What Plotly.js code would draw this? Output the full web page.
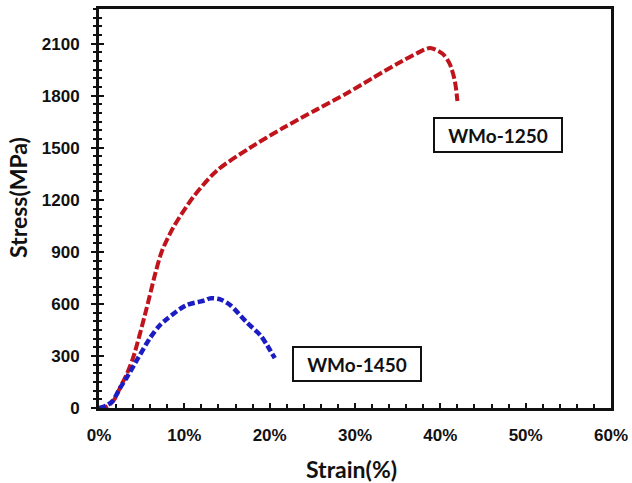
<!DOCTYPE html>
<html>
<head>
<meta charset="utf-8">
<script src="https://cdn.plot.ly/plotly-3.0.1.min.js"></script>
<style>html,body{margin:0;padding:0;background:#fff;}#chart{width:632px;height:483px;}</style>
</head>
<body>
<div id="chart"></div>
<script>
// WMo-1250 (strain %, stress MPa)
const strain1250 = [0, 1.0, 1.8, 2.5, 3.2, 4.0, 5.4, 6.6, 7.4, 8.7, 11.0, 13.8, 17.7, 21.6, 25.5, 29.1, 32.0, 34.9, 37.3, 38.8, 40.3, 41.1, 41.7, 42.0];
const stress1250 = [0, 10, 50, 121, 190, 290, 540, 776, 908, 1040, 1213, 1368, 1500, 1615, 1720, 1816, 1900, 1983, 2046, 2075, 2040, 1983, 1885, 1770];
// WMo-1450
const strain1450 = [0, 0.9, 1.6, 2.4, 3.3, 4.6, 6.0, 7.0, 8.0, 10.2, 12.4, 13.0, 14.2, 15.4, 17.3, 18.9, 19.7, 20.6];
const stress1450 = [0, 15, 40, 110, 180, 290, 405, 470, 515, 592, 620, 632, 626, 592, 494, 420, 362, 287];

const labels = ["WMo-1250", "WMo-1450"];
const labelX = [46.8, 30.2];
const labelY = [1574, 254];

const xTickVals = [0, 10, 20, 30, 40, 50, 60];
const xTickText = ["0%", "10%", "20%", "30%", "40%", "50%", "60%"];
const yTickVals = [0, 300, 600, 900, 1200, 1500, 1800, 2100];

const xTitle = "Strain(%)";
const yTitle = "Stress(MPa)";

const tickFont = {family: "Liberation Sans, Arial, sans-serif", size: 17, color: "#111", weight: "bold"};
const titleFont = {family: "Lato, 'Open Sans', sans-serif", size: 23, color: "#111", weight: "bold"};

const traces = [
  {x: strain1250, y: stress1250, type: "scatter", mode: "lines", name: labels[0],
   line: {color: "#C0141C", width: 4, dash: "9px,3px", shape: "spline", smoothing: 0.8}},
  {x: strain1450, y: stress1450, type: "scatter", mode: "lines", name: labels[1],
   line: {color: "#1C1CC4", width: 4.5, dash: "7px,3px", shape: "spline", smoothing: 0.8}},
  {x: [0], y: [0], xaxis: "x", yaxis: "y2", mode: "markers", marker: {opacity: 0}, hoverinfo: "skip", showlegend: false}
];

const annotations = labels.map((t, i) => ({
  x: labelX[i], y: labelY[i], xref: "x", yref: "y", text: t, showarrow: false,
  font: {family: "Lato, 'Open Sans', sans-serif", size: 19, color: "#111", weight: "bold"},
  bordercolor: "#111", borderwidth: 2, borderpad: 1, bgcolor: "#fff",
  width: 124, height: 30
}));
annotations.push({
  x: 18, y: 198, xref: "paper", yref: "paper", text: yTitle, showarrow: false, textangle: -90,
  font: titleFont, xanchor: "center", yanchor: "middle"
});
annotations.push({
  x: 351, y: 469, xref: "paper", yref: "paper", text: xTitle, showarrow: false,
  font: titleFont, xanchor: "center", yanchor: "middle"
});
// convert pixel placements of titles to paper fractions
const W = 632, H = 483, M = {l: 99, r: 21, t: 9, b: 75};
const pw = W - M.l - M.r, ph = H - M.t - M.b;
annotations.slice(2).forEach(a => { a.x = (a.x - M.l) / pw; a.y = (H - M.b - a.y) / ph; });

const layout = {
  width: W, height: H,
  margin: M,
  paper_bgcolor: "#fff", plot_bgcolor: "#fff",
  showlegend: false,
  xaxis: {
    range: [0, 60], tickvals: xTickVals, ticktext: xTickText,
    showgrid: false, zeroline: false,
    showline: true, linecolor: "#111", linewidth: 3, mirror: true,
    ticks: "inside", ticklen: 5, tickwidth: 2, tickcolor: "#111",
    minor: {dtick: 2, ticks: "inside", ticklen: 4, tickwidth: 2, tickcolor: "#111", showgrid: false},
    tickfont: tickFont, ticklabelstandoff: 10
  },
  yaxis: {
    range: [0, 2300], tickvals: yTickVals,
    showgrid: false, zeroline: false,
    showline: true, linecolor: "#111", linewidth: 3, mirror: true,
    ticks: "outside", ticklen: 5, tickwidth: 2, tickcolor: "#111",
    minor: {dtick: 50, ticks: "outside", ticklen: 3, tickwidth: 2, tickcolor: "#111", showgrid: false},
    tickfont: tickFont, ticklabelstandoff: 8
  },
  yaxis2: {
    overlaying: "y", range: [0, 2300], tickvals: yTickVals, showticklabels: false,
    showgrid: false, zeroline: false, showline: false,
    ticks: "inside", ticklen: 5, tickwidth: 2, tickcolor: "#111",
    minor: {dtick: 50, ticks: "inside", ticklen: 3, tickwidth: 2, tickcolor: "#111", showgrid: false}
  },
  annotations: annotations
};

Plotly.newPlot("chart", traces, layout, {staticPlot: true, displayModeBar: false});
</script>
</body>
</html>
